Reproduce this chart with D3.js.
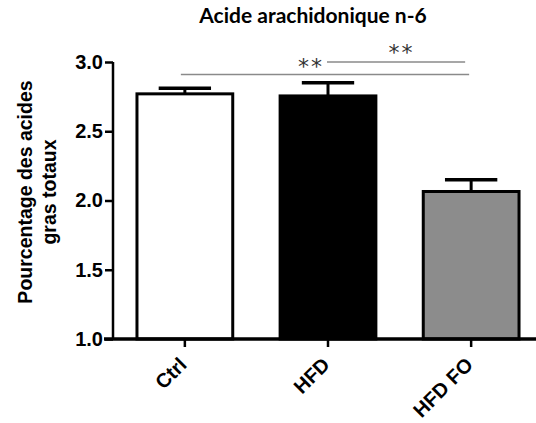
<!DOCTYPE html>
<html>
<head>
<meta charset="utf-8">
<script src="https://cdn.jsdelivr.net/npm/d3@7"></script>
<style>
  html, body { margin: 0; padding: 0; background: #fff; }
  svg { display: block; }
</style>
</head>
<body>
<svg id="chart" width="536" height="423"></svg>
<script>
// Arachidonic acid (n-6) as % of total fatty acids, mean ± SEM per diet group
const categories = ["Ctrl", "HFD", "HFD FO"];
const means = [2.77, 2.755, 2.065];
const sems = [0.04, 0.095, 0.085];
const fills = ["#ffffff", "#000000", "#8c8c8c"];
const yTicks = [1.0, 1.5, 2.0, 2.5, 3.0];

const svg = d3.select("#chart");
const sans = "Liberation Sans, Arial, sans-serif";

const x = d3.scaleBand()
  .domain(categories)
  .range([113, 543])
  .paddingInner(0.31)
  .paddingOuter(0.157);

const y = d3.scaleLinear().domain([1, 3]).range([339, 62]);

// bars
svg.append("g").selectAll("rect")
  .data(categories)
  .join("rect")
  .attr("x", d => x(d) + 1.5)
  .attr("y", (d, i) => y(means[i]))
  .attr("width", x.bandwidth() - 3)
  .attr("height", (d, i) => y(1) - y(means[i]))
  .attr("fill", (d, i) => fills[i])
  .attr("stroke", "#000")
  .attr("stroke-width", 3);

// error bars (upper half only)
const capW = x.bandwidth() * 0.53;
const err = svg.append("g").attr("stroke", "#000");
categories.forEach((c, i) => {
  const cx = x(c) + x.bandwidth() / 2;
  err.append("line")
    .attr("x1", cx).attr("x2", cx)
    .attr("y1", y(means[i])).attr("y2", y(means[i] + sems[i]))
    .attr("stroke-width", 3);
  err.append("line")
    .attr("x1", cx - capW / 2).attr("x2", cx + capW / 2)
    .attr("y1", y(means[i] + sems[i])).attr("y2", y(means[i] + sems[i]))
    .attr("stroke-width", 3.5);
});

// y axis
const yAxis = svg.append("g")
  .attr("transform", "translate(113,0)")
  .call(d3.axisLeft(y).tickValues(yTicks).tickFormat(d3.format(".1f")).tickSize(8).tickPadding(2));
yAxis.select(".domain").attr("stroke-width", 2.5).attr("d", `M0,${y(3)}V${y(1)}`);
yAxis.selectAll(".tick line").attr("stroke-width", 2.5);
yAxis.selectAll(".tick text")
  .attr("font-family", sans)
  .attr("font-weight", "bold")
  .attr("font-size", 20)
  .attr("fill", "#000");

// x axis
const xAxis = svg.append("g")
  .attr("transform", `translate(0,${y(1)})`)
  .call(d3.axisBottom(x).tickSize(8).tickFormat(""));
xAxis.select(".domain").attr("stroke-width", 3.5).attr("d", "M104,0H536");
xAxis.selectAll(".tick line").attr("stroke-width", 2.5);

// category labels, rotated
svg.append("g").selectAll("text")
  .data(categories)
  .join("text")
  .attr("transform", d => `translate(${x(d) + x.bandwidth() / 2 + 3},${y(1) + 27}) rotate(-45)`)
  .attr("text-anchor", "end")
  .attr("font-family", sans)
  .attr("font-weight", "bold")
  .attr("font-size", 20)
  .attr("fill", "#000")
  .text(d => d);

// title
svg.append("text")
  .attr("x", 313).attr("y", 23)
  .attr("text-anchor", "middle")
  .attr("font-family", "Lato, sans-serif")
  .attr("font-weight", "bold")
  .attr("font-size", 21)
  .attr("fill", "#000")
  .text("Acide arachidonique n-6");

// y axis title
const yt = svg.append("text")
  .attr("transform", "translate(0,192) rotate(-90)")
  .attr("text-anchor", "middle")
  .attr("font-family", sans)
  .attr("font-weight", "bold")
  .attr("font-size", 19.5)
  .attr("fill", "#000");
yt.append("tspan").attr("x", 0).attr("y", 32).text("Pourcentage des acides");
yt.append("tspan").attr("x", 0).attr("y", 56).text("gras totaux");

// significance brackets
const cx = c => x(c) + x.bandwidth() / 2;
const sig = svg.append("g");
sig.append("line")
  .attr("x1", cx("Ctrl") - 4).attr("x2", cx("HFD FO") - 2)
  .attr("y1", 74.5).attr("y2", 74.5)
  .attr("stroke", "#8a8a8a").attr("stroke-width", 1.6);
sig.append("line")
  .attr("x1", cx("HFD") - 1).attr("x2", cx("HFD FO") - 6)
  .attr("y1", 62).attr("y2", 62)
  .attr("stroke", "#8a8a8a").attr("stroke-width", 1.6);
sig.append("text")
  .attr("x", cx("HFD") - 4).attr("y", 74)
  .attr("text-anchor", "end")
  .attr("font-family", "DejaVu Sans, sans-serif")
  .attr("font-size", 22)
  .attr("letter-spacing", 2)
  .attr("fill", "#333")
  .text("**");
sig.append("text")
  .attr("x", (cx("HFD") + cx("HFD FO")) / 2 + 2).attr("y", 60)
  .attr("text-anchor", "middle")
  .attr("font-family", "DejaVu Sans, sans-serif")
  .attr("font-size", 22)
  .attr("letter-spacing", 2)
  .attr("fill", "#333")
  .text("**");
</script>
</body>
</html>
